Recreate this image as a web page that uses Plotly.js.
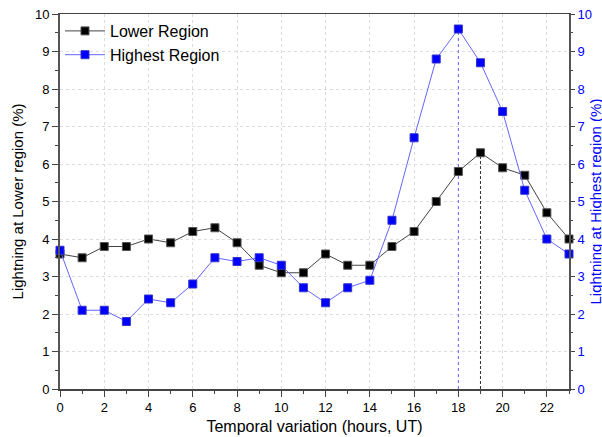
<!DOCTYPE html>
<html>
<head>
<meta charset="utf-8">
<script src="https://cdn.plot.ly/plotly-3.0.1.min.js"></script>
<style>html,body{margin:0;padding:0;background:#fff;}#chart{width:602px;height:437px;}</style>
</head>
<body>
<div id="chart"></div>
<script>
const hours = [0,1,2,3,4,5,6,7,8,9,10,11,12,13,14,15,16,17,18,19,20,21,22,23];
const lowerRegion = [3.6,3.5,3.8,3.8,4.0,3.9,4.2,4.3,3.9,3.3,3.1,3.1,3.6,3.3,3.3,3.8,4.2,5.0,5.8,6.3,5.9,5.7,4.7,4.0];
const highestRegion = [3.7,2.1,2.1,1.8,2.4,2.3,2.8,3.5,3.4,3.5,3.3,2.7,2.3,2.7,2.9,4.5,6.7,8.8,9.6,8.7,7.4,5.3,4.0,3.6];
const xTicks = [0,2,4,6,8,10,12,14,16,18,20,22];

const iLow = lowerRegion.indexOf(Math.max(...lowerRegion));
const iHigh = highestRegion.indexOf(Math.max(...highestRegion));

const font = 'Liberation Sans, Arial, sans-serif';

const traces = [
  {
    x: hours, y: lowerRegion, name: 'Lower Region', type: 'scatter', mode: 'lines+markers',
    line: {color: '#444444', width: 1},
    marker: {symbol: 'square', size: 8, color: '#000000', line: {color: '#555555', width: 1}},
    yaxis: 'y', cliponaxis: false
  },
  {
    x: hours, y: highestRegion, name: 'Highest Region', type: 'scatter', mode: 'lines+markers',
    line: {color: '#6666ff', width: 1},
    marker: {symbol: 'square', size: 8, color: '#0000ff', line: {color: '#3333cc', width: 1}},
    yaxis: 'y2', cliponaxis: false
  }
];

const layout = {
  width: 602, height: 437,
  margin: {l: 60, r: 33, t: 14, b: 48},
  paper_bgcolor: '#ffffff', plot_bgcolor: '#ffffff',
  font: {family: font, size: 13, color: '#000'},
  showlegend: true,
  legend: {x: 0.0, y: 1.0, xanchor: 'left', yanchor: 'top', bgcolor: 'rgba(0,0,0,0)',
           font: {family: font, size: 16, color: '#000'}, tracegroupgap: 2, itemwidth: 40},
  xaxis: {
    range: [0, 23], tickvals: xTicks, ticktext: xTicks.map(String),
    ticks: 'outside', ticklen: 6, tickwidth: 1, tickcolor: '#444',
    minor: {dtick: 1, ticklen: 3, tickcolor: '#444', showgrid: false},
    showline: true, linecolor: '#444', linewidth: 1.5, mirror: true,
    showgrid: true, gridcolor: '#dddddd', griddash: 'dot', gridwidth: 1,
    zeroline: false,
    tickfont: {family: font, size: 13, color: '#000'},
    title: {text: 'Temporal variation (hours, UT)', font: {family: font, size: 16, color: '#000'}, standoff: 6}
  },
  yaxis: {
    range: [0, 10], dtick: 1,
    ticks: 'outside', ticklen: 6, tickwidth: 1, tickcolor: '#444',
    minor: {dtick: 0.5, ticklen: 3, tickcolor: '#444', showgrid: false},
    showline: true, linecolor: '#555', linewidth: 2,
    showgrid: true, gridcolor: '#dddddd', griddash: 'dot', gridwidth: 1,
    zeroline: false,
    tickfont: {family: font, size: 13, color: '#000'},
    title: {text: 'Lightning at Lower region (%)', font: {family: font, size: 15, color: '#000'}, standoff: 8}
  },
  yaxis2: {
    range: [0, 10], dtick: 1, overlaying: 'y', side: 'right',
    ticks: 'outside', ticklen: 4, tickwidth: 1, tickcolor: '#444',
    minor: {dtick: 0.5, ticklen: 2, tickcolor: '#444', showgrid: false},
    showline: true, linecolor: '#555', linewidth: 2,
    showgrid: false, zeroline: false,
    tickfont: {family: font, size: 13, color: '#0000ff'}
  },
  annotations: [
    {text: 'Lightning at Highest region (%)', xref: 'paper', yref: 'paper', x: 1, y: 0.5,
     xanchor: 'center', yanchor: 'middle', xshift: 26, textangle: -90, showarrow: false,
     font: {family: font, size: 15, color: '#0000ff'}}
  ],
  shapes: [
    {type: 'line', xref: 'x', yref: 'y', x0: hours[iHigh], x1: hours[iHigh], y0: 0, y1: highestRegion[iHigh],
     line: {color: '#6666ff', width: 1, dash: 'dot'}, layer: 'between'},
    {type: 'line', xref: 'x', yref: 'y', x0: hours[iLow], x1: hours[iLow], y0: 0, y1: lowerRegion[iLow],
     line: {color: '#333333', width: 1, dash: '3px,2px'}, layer: 'between'}
  ]
};

Plotly.newPlot('chart', traces, layout, {displayModeBar: false, staticPlot: true});
</script>
</body>
</html>
